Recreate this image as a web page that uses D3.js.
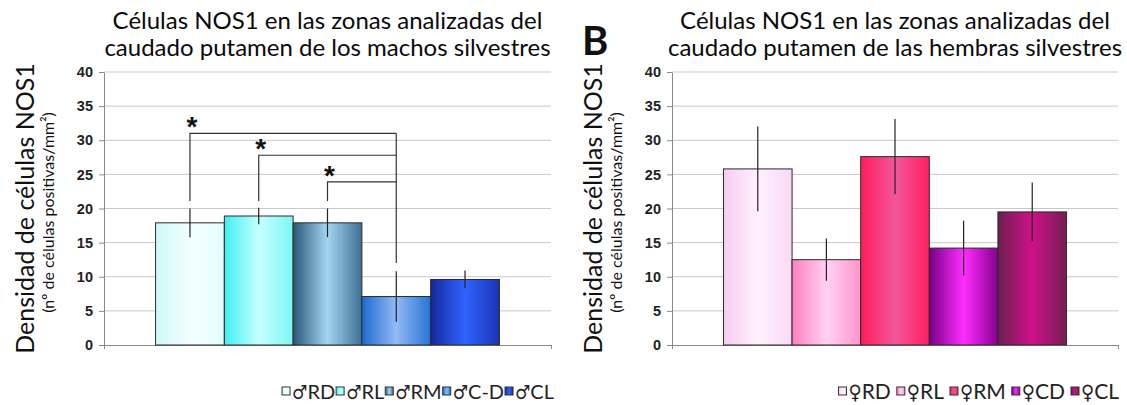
<!DOCTYPE html>
<html>
<head>
<meta charset="utf-8">
<script src="https://cdn.jsdelivr.net/npm/d3@7"></script>
<style>
  body { margin: 0; background: #fff; }
  svg { display: block; }
</style>
</head>
<body>
<svg id="chart" width="1127" height="405"></svg>
<script>
// ---- data ----
const yTicks = [0, 5, 10, 15, 20, 25, 30, 35, 40];

const maleCats = ["♂RD", "♂RL", "♂RM", "♂C-D", "♂CL"];
const maleValues = [17.9, 18.9, 17.9, 7.1, 9.6];
const maleErrors = [2.1, 1.2, 2.1, 3.7, 1.3];

const femaleCats = ["♀RD", "♀RL", "♀RM", "♀CD", "♀CL"];
const femaleValues = [25.8, 12.5, 27.6, 14.2, 19.5];
const femaleErrors = [6.2, 3.1, 5.5, 4.0, 4.3];

// significance brackets (male chart): from bar -> to bar, height of the bar line
const bracketFrom = [0, 1, 2];
const bracketTo = 3;
const bracketTop = [31.0, 27.8, 23.9];
const bracketLeftFoot = 21.1;
const bracketRightFoot = 12.0;

const titleMale = ["Células NOS1 en las zonas analizadas del", "caudado putamen de los machos silvestres"];
const titleFemale = ["Células NOS1 en las zonas analizadas del", "caudado putamen de las hembras silvestres"];
const yLabel1 = "Densidad de células NOS1";
const yLabel2 = "(nº de células positivas/mm²)";

// gradient colours: [edge, centre, edge]
const maleColors = [
  ["#cff8f8", "#f3ffff", "#e4fdfd"],
  ["#3ff0f0", "#c6ffff", "#7ff6f6"],
  ["#2b5777", "#a4d6f2", "#3d6f92"],
  ["#1e6bcc", "#93b9f6", "#2574d4"],
  ["#15279c", "#3063ff", "#1a34b4"]
];
const femaleColors = [
  ["#f7ccf2", "#fff1fd", "#f9d9f6"],
  ["#ff7ebd", "#ffd2f3", "#ff96cb"],
  ["#ff1c5c", "#f2579a", "#ff1f62"],
  ["#760084", "#ff2dff", "#86008f"],
  ["#6c1f4e", "#d0108a", "#741f52"]
];

const svg = d3.select("#chart");
const defs = svg.append("defs");
const font = "Lato, 'Open Sans', sans-serif";

function panel(cfg) {
  const x = d3.scaleBand()
    .domain(cfg.cats)
    .range([cfg.left, cfg.right])
    .paddingInner(0)
    .paddingOuter(0.75);
  const y = d3.scaleLinear().domain([0, 40]).range([345, 72]);
  const g = svg.append("g");

  // gradients
  cfg.colors.forEach((c, i) => {
    const lg = defs.append("linearGradient")
      .attr("id", cfg.id + "g" + i)
      .attr("x1", 0).attr("x2", 1).attr("y1", 0).attr("y2", 0);
    lg.append("stop").attr("offset", "0%").attr("stop-color", c[0]);
    lg.append("stop").attr("offset", "50%").attr("stop-color", c[1]);
    lg.append("stop").attr("offset", "100%").attr("stop-color", c[2]);
  });

  // gridlines
  g.append("g")
    .selectAll("line")
    .data(yTicks.filter(d => d > 0))
    .join("line")
    .attr("x1", cfg.left).attr("x2", cfg.right)
    .attr("y1", d => y(d)).attr("y2", d => y(d))
    .attr("stroke", "#c9c9c9");

  // y axis
  const ya = g.append("g")
    .attr("transform", `translate(${cfg.left},0)`)
    .call(d3.axisLeft(y).tickValues(yTicks).tickSize(5).tickSizeOuter(0).tickPadding(6));
  ya.select(".domain").attr("stroke", "#8a8a8a");
  ya.selectAll(".tick line").attr("stroke", "#8a8a8a");
  ya.selectAll(".tick text")
    .attr("font-family", "'Liberation Sans', Arial, sans-serif")
    .attr("font-weight", "bold")
    .attr("font-size", 14.5)
    .attr("fill", "#222");

  // x axis (single category, no labels)
  const xa = g.append("g")
    .attr("transform", `translate(0,${y(0)})`)
    .call(d3.axisBottom(d3.scaleLinear().range([cfg.left, cfg.right]))
      .tickValues([0, 1]).tickSize(4).tickSizeOuter(0).tickFormat(""));
  xa.select(".domain").attr("stroke", "#8a8a8a");
  xa.selectAll(".tick line").attr("stroke", "#8a8a8a");

  // bars
  g.append("g")
    .selectAll("rect")
    .data(cfg.values)
    .join("rect")
    .attr("x", (d, i) => x(cfg.cats[i]))
    .attr("y", d => y(d))
    .attr("width", x.bandwidth())
    .attr("height", d => y(0) - y(d))
    .attr("fill", (d, i) => `url(#${cfg.id}g${i})`)
    .attr("stroke", "#2a2a2a")
    .attr("stroke-width", 1);

  // error bars
  g.append("g")
    .selectAll("line")
    .data(cfg.values)
    .join("line")
    .attr("x1", (d, i) => x(cfg.cats[i]) + x.bandwidth() / 2)
    .attr("x2", (d, i) => x(cfg.cats[i]) + x.bandwidth() / 2)
    .attr("y1", (d, i) => y(d + cfg.errors[i]))
    .attr("y2", (d, i) => y(d - cfg.errors[i]))
    .attr("stroke", "#222")
    .attr("stroke-width", 1.2);

  // title
  const cx = (cfg.left + cfg.right) / 2;
  g.append("text")
    .attr("text-anchor", "middle")
    .attr("font-family", font)
    .attr("font-size", 24)
    .attr("fill", "#0a0a0a")
    .selectAll("tspan")
    .data(cfg.title)
    .join("tspan")
    .attr("x", cx)
    .attr("y", (d, i) => 29 + i * 27)
    .text(d => d);

  // y label
  const ly = (y(0) + y(40)) / 2;
  g.append("text")
    .attr("transform", `translate(${cfg.left - 70},${ly}) rotate(-90)`)
    .attr("text-anchor", "middle")
    .attr("font-family", font)
    .attr("font-size", 25)
    .attr("fill", "#111")
    .text(yLabel1);
  g.append("text")
    .attr("transform", `translate(${cfg.left - 50},${ly + 4}) rotate(-90)`)
    .attr("text-anchor", "middle")
    .attr("font-family", font)
    .attr("font-size", 16)
    .attr("fill", "#111")
    .text(yLabel2);

  // legend, laid out left to right then pushed against the right edge
  const leg = g.append("g");
  const legY = 392;
  let lx = 0;
  cfg.cats.forEach((c, i) => {
    if (i > 0) lx += cfg.legendGap;
    leg.append("rect")
      .attr("x", lx).attr("y", legY - 5)
      .attr("width", 8).attr("height", 8)
      .attr("fill", `url(#${cfg.id}g${i})`)
      .attr("stroke", "#333");
    const t = leg.append("text")
      .attr("x", lx + 10).attr("y", legY + 7)
      .attr("font-family", font)
      .attr("font-size", cfg.legendSize)
      .attr("fill", "#222");
    t.append("tspan")
      .attr("font-family", "'DejaVu Sans Condensed', 'DejaVu Sans', sans-serif")
      .attr("font-size", cfg.legendSize - 1)
      .text(c.slice(0, 1));
    t.append("tspan").text(c.slice(1));
    lx += 10 + t.node().getComputedTextLength() + 1;
  });
  leg.attr("transform", `translate(${cfg.legendRight - lx},0)`);

  return { g, x, y };
}

const male = panel({
  id: "m", left: 104, right: 551,
  cats: maleCats, values: maleValues, errors: maleErrors,
  colors: maleColors, title: titleMale,
  legendRight: 555, legendSize: 20, legendGap: 0
});

const female = panel({
  id: "f", left: 672, right: 1118,
  cats: femaleCats, values: femaleValues, errors: femaleErrors,
  colors: femaleColors, title: titleFemale,
  legendRight: 1120, legendSize: 21, legendGap: 5
});

// significance brackets on the male chart
const mx = i => male.x(maleCats[i]) + male.x.bandwidth() / 2;
const my = male.y;
const br = male.g.append("g");
br.selectAll("path")
  .data(bracketFrom)
  .join("path")
  .attr("d", (d, i) => `M${mx(d)},${my(bracketLeftFoot)}V${my(bracketTop[i])}H${mx(bracketTo)}`)
  .attr("fill", "none")
  .attr("stroke", "#333")
  .attr("stroke-width", 1.2);
br.append("line")
  .attr("x1", mx(bracketTo)).attr("x2", mx(bracketTo))
  .attr("y1", my(d3.max(bracketTop))).attr("y2", my(bracketRightFoot))
  .attr("stroke", "#333")
  .attr("stroke-width", 1.2);
br.selectAll("text")
  .data(bracketFrom)
  .join("text")
  .attr("x", d => mx(d) + 2)
  .attr("y", (d, i) => my(bracketTop[i] + 1.9) + 16)
  .attr("text-anchor", "middle")
  .attr("font-family", "'Liberation Sans', Arial, sans-serif")
  .attr("font-weight", "bold")
  .attr("font-size", 28)
  .attr("fill", "#111")
  .text("*");

// panel letter
svg.append("text")
  .attr("x", 582).attr("y", 55)
  .attr("font-family", font)
  .attr("font-weight", "bold")
  .attr("font-size", 40)
  .attr("fill", "#111")
  .text("B");
</script>
</body>
</html>
